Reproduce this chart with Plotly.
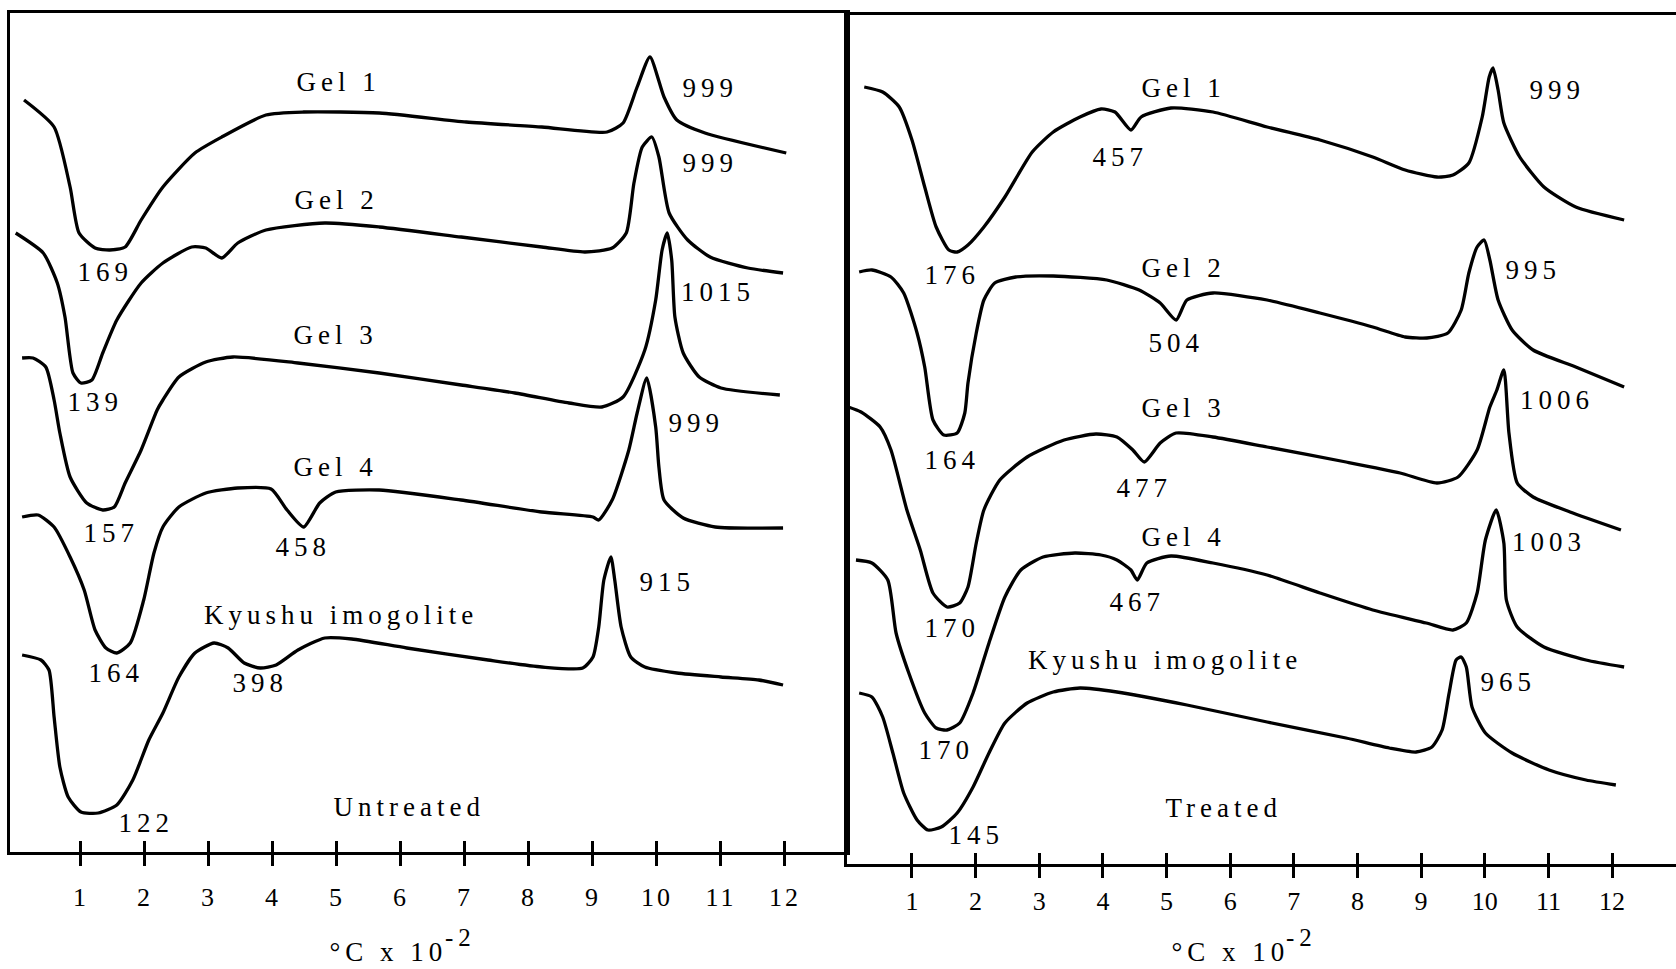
import plotly.graph_objects as go

# ---------------- data (temperature in 100 deg C units, DTA signal in arbitrary units) ----------------
tick_values = [1, 2, 3, 4, 5, 6, 7, 8, 9, 10, 11, 12]
tick_labels = ["1", "2", "3", "4", "5", "6", "7", "8", "9", "10", "11", "12"]

# Untreated
u_gel1_t = [0.11, 0.58, 0.83, 0.97, 1.22, 1.45, 1.69, 1.94, 2.28, 2.78, 3.20, 3.89, 4.48, 5.66, 7.02, 8.20, 9.22, 9.47, 9.69, 9.89, 10.11, 10.31, 10.75, 12.02]
u_gel1_s = [75.2, 72.5, 66.5, 61.9, 60.4, 60.2, 60.5, 63.2, 66.5, 69.9, 71.5, 73.7, 74.0, 73.9, 73.0, 72.5, 72.0, 72.9, 76.5, 79.5, 75.5, 73.2, 71.9, 69.9]

u_gel2_t = [-0.02, 0.41, 0.63, 0.75, 0.875, 1.0, 1.17, 1.34, 1.56, 1.94, 2.28, 2.73, 2.95, 3.20, 3.45, 3.89, 4.81, 5.66, 6.94, 8.20, 8.875, 9.30, 9.52, 9.64, 9.77, 9.92, 10.03, 10.19, 10.48, 10.83, 11.42, 11.97]
u_gel2_s = [61.9, 59.9, 56.9, 53.5, 47.9, 46.9, 47.2, 49.9, 53.2, 56.9, 58.9, 60.5, 60.4, 59.4, 60.9, 62.2, 62.9, 62.5, 61.5, 60.5, 60.0, 60.4, 61.9, 66.9, 70.5, 71.5, 69.5, 63.9, 61.2, 59.5, 58.4, 57.9]

u_gel3_t = [0.08, 0.25, 0.45, 0.58, 0.67, 0.83, 1.09, 1.34, 1.52, 1.69, 1.94, 2.19, 2.28, 2.53, 2.95, 3.375, 4.39, 5.66, 6.94, 7.78, 8.625, 9.14, 9.47, 9.81, 9.98, 10.08, 10.16, 10.23, 10.28, 10.41, 10.66, 11.0, 11.92]
u_gel3_s = [49.4, 49.4, 48.5, 45.2, 41.9, 37.5, 34.9, 34.2, 34.5, 36.9, 40.2, 44.2, 45.2, 47.5, 49.0, 49.5, 48.9, 47.9, 46.7, 45.9, 44.9, 44.5, 45.5, 50.2, 55.2, 60.2, 61.9, 59.2, 53.5, 49.9, 47.5, 46.4, 45.7]

u_gel4_t = [0.08, 0.33, 0.58, 0.83, 1.05, 1.22, 1.39, 1.56, 1.77, 1.98, 2.14, 2.28, 2.53, 2.95, 3.45, 3.97, 4.22, 4.48, 4.73, 4.98, 5.66, 6.94, 8.20, 9.0, 9.09, 9.30, 9.56, 9.69, 9.84, 9.98, 10.03, 10.11, 10.41, 10.91, 11.97]
u_gel4_s = [33.5, 33.7, 32.5, 29.5, 26.2, 22.2, 20.4, 19.9, 20.9, 25.2, 29.9, 32.5, 34.5, 35.9, 36.4, 36.3, 34.2, 32.5, 34.9, 36.0, 36.2, 35.2, 34.0, 33.5, 33.2, 35.2, 40.2, 43.9, 47.4, 42.5, 38.5, 35.2, 33.4, 32.5, 32.4]

u_kyu_t = [0.08, 0.375, 0.5, 0.58, 0.67, 0.80, 1.0, 1.27, 1.56, 1.81, 2.06, 2.28, 2.53, 2.78, 3.08, 3.30, 3.55, 3.80, 4.05, 4.39, 4.81, 5.23, 6.09, 7.36, 8.20, 8.84, 9.0, 9.09, 9.17, 9.28, 9.34, 9.44, 9.59, 9.81, 10.31, 11.0, 11.59, 11.97]
u_kyu_s = [19.7, 19.2, 18.2, 13.5, 8.5, 5.5, 4.0, 3.9, 4.7, 7.2, 11.2, 13.9, 17.5, 19.9, 20.9, 20.4, 18.9, 18.4, 18.7, 20.2, 21.4, 21.3, 20.4, 19.2, 18.5, 18.4, 19.5, 22.5, 27.2, 29.5, 27.2, 22.5, 19.5, 18.5, 17.9, 17.5, 17.2, 16.7]

# Treated
t_gel1_t = [0.25, 0.54, 0.80, 1.0, 1.20, 1.38, 1.58, 1.71, 1.88, 2.13, 2.46, 2.89, 3.22, 3.64, 3.97, 4.19, 4.44, 4.60, 5.07, 5.73, 6.58, 7.41, 8.24, 8.75, 9.25, 9.50, 9.75, 9.96, 10.07, 10.13, 10.21, 10.30, 10.55, 10.93, 11.43, 12.19]
t_gel1_s = [77.7, 77.2, 75.7, 72.4, 67.7, 63.7, 61.4, 61.2, 61.9, 63.7, 66.7, 71.2, 73.2, 74.7, 75.5, 75.2, 73.4, 74.7, 75.6, 75.2, 73.7, 72.4, 70.7, 69.4, 68.7, 68.9, 70.1, 74.7, 78.7, 79.6, 77.4, 74.1, 70.7, 67.7, 65.7, 64.4]

t_gel2_t = [0.17, 0.37, 0.67, 0.87, 1.08, 1.20, 1.33, 1.50, 1.71, 1.83, 1.88, 2.01, 2.13, 2.30, 2.63, 3.22, 4.06, 4.57, 4.90, 5.15, 5.32, 5.73, 6.58, 7.41, 8.24, 8.75, 9.09, 9.42, 9.63, 9.75, 9.88, 9.99, 10.08, 10.21, 10.43, 10.76, 11.43, 12.19]
t_gel2_s = [59.2, 59.4, 58.7, 57.1, 53.1, 49.7, 44.4, 42.9, 43.1, 45.1, 48.1, 53.1, 56.4, 58.1, 58.7, 58.8, 58.4, 57.4, 56.1, 54.4, 56.4, 57.1, 56.4, 55.1, 53.7, 52.7, 52.6, 53.1, 55.4, 59.1, 61.7, 62.4, 60.4, 56.4, 53.4, 51.4, 49.7, 47.7]

t_gel3_t = [0.0, 0.20, 0.50, 0.67, 0.92, 1.13, 1.33, 1.55, 1.75, 1.88, 2.01, 2.13, 2.38, 2.81, 3.39, 3.89, 4.22, 4.47, 4.65, 4.90, 5.15, 5.73, 6.58, 7.82, 8.67, 9.25, 9.58, 9.88, 10.08, 10.19, 10.30, 10.38, 10.51, 10.76, 11.34, 12.14]
t_gel3_s = [45.7, 45.2, 43.7, 41.4, 35.4, 31.4, 27.1, 25.7, 26.1, 27.7, 32.1, 35.4, 38.4, 40.7, 42.4, 43.0, 42.7, 41.4, 40.2, 42.1, 43.1, 42.7, 41.7, 40.2, 39.1, 38.1, 38.7, 41.4, 45.7, 47.4, 49.4, 43.1, 38.1, 36.7, 35.2, 33.4]

t_gel4_t = [0.12, 0.37, 0.62, 0.75, 0.95, 1.20, 1.38, 1.55, 1.75, 1.96, 2.21, 2.46, 2.71, 3.06, 3.56, 3.97, 4.22, 4.44, 4.54, 4.69, 5.07, 5.73, 6.58, 7.41, 8.24, 9.08, 9.50, 9.71, 9.88, 10.01, 10.18, 10.30, 10.34, 10.51, 10.93, 11.59, 12.19]
t_gel4_s = [30.4, 30.1, 28.4, 23.1, 19.1, 15.1, 13.6, 13.4, 14.1, 17.1, 22.1, 26.7, 29.4, 30.7, 31.1, 30.9, 30.4, 29.4, 28.4, 30.1, 30.8, 30.1, 28.9, 27.1, 25.4, 24.1, 23.4, 24.1, 27.1, 32.4, 35.4, 32.1, 26.4, 23.7, 21.7, 20.4, 19.7]

t_kyu_t = [0.17, 0.37, 0.54, 0.70, 0.87, 1.08, 1.25, 1.46, 1.71, 1.96, 2.21, 2.46, 2.81, 3.22, 3.64, 4.22, 5.32, 6.58, 7.82, 8.50, 8.92, 9.17, 9.33, 9.44, 9.55, 9.63, 9.71, 9.80, 10.01, 10.43, 11.01, 11.59, 12.06]
t_kyu_s = [17.1, 16.7, 14.7, 11.1, 7.1, 4.4, 3.4, 3.7, 5.1, 7.7, 11.1, 14.1, 16.1, 17.2, 17.6, 17.2, 15.9, 14.2, 12.6, 11.6, 11.2, 11.7, 13.4, 17.1, 20.4, 20.7, 19.7, 15.7, 13.1, 11.1, 9.4, 8.4, 7.9]

# Curve and peak labels: (text, temperature, signal)
untreated_labels = [
    ("Gel 1", 5.02, 77.0), ("999", 10.84, 76.4), ("169", 1.39, 58.0),
    ("Gel 2", 5.00, 65.2), ("999", 10.83, 68.9), ("139", 1.22, 45.0),
    ("1015", 10.95, 56.0), ("Gel 3", 4.98, 51.7), ("999", 10.61, 42.9),
    ("157", 1.47, 31.9), ("Gel 4", 4.98, 38.5), ("458", 4.48, 30.5),
    ("915", 10.16, 27.0), ("Kyushu imogolite", 5.06, 23.7), ("164", 1.56, 17.9),
    ("398", 3.80, 16.9), ("122", 2.02, 2.9), ("Untreated", 6.13, 4.5),
]
treated_labels = [
    ("Gel 1", 5.27, 77.6), ("999", 11.14, 77.4), ("457", 4.27, 70.7),
    ("176", 1.63, 58.9), ("Gel 2", 5.27, 59.6), ("995", 10.76, 59.4),
    ("504", 5.15, 52.1), ("Gel 3", 5.27, 45.6), ("1006", 11.14, 46.4),
    ("164", 1.63, 40.4), ("477", 4.65, 37.6), ("Gel 4", 5.27, 32.7),
    ("1003", 11.01, 32.2), ("170", 1.63, 23.6), ("467", 4.54, 26.2),
    ("Kyushu imogolite", 4.98, 20.4), ("965", 10.38, 18.2), ("170", 1.55, 11.4),
    ("Treated", 5.90, 5.6), ("145", 2.01, 2.9),
]
axis_title_main = "°C x 10"
axis_title_exp = "-2"

# ---------------- figure ----------------
FONT = "Liberation Serif, Times New Roman, serif"
W, H = 1676, 969
ML, MR, MT, MB = 10, 0, 13, 105

fig = go.Figure()

untreated = [(u_gel1_t, u_gel1_s), (u_gel2_t, u_gel2_s), (u_gel3_t, u_gel3_s), (u_gel4_t, u_gel4_s), (u_kyu_t, u_kyu_s)]
treated = [(t_gel1_t, t_gel1_s), (t_gel2_t, t_gel2_s), (t_gel3_t, t_gel3_s), (t_gel4_t, t_gel4_s), (t_kyu_t, t_kyu_s)]

for xs, ys in untreated:
    fig.add_trace(go.Scatter(x=xs, y=ys, mode="lines", xaxis="x", yaxis="y",
                             line=dict(color="black", width=3.3, shape="spline", smoothing=0.6),
                             showlegend=False, hoverinfo="skip"))
for xs, ys in treated:
    fig.add_trace(go.Scatter(x=xs, y=ys, mode="lines", xaxis="x2", yaxis="y2",
                             line=dict(color="black", width=3.3, shape="spline", smoothing=0.6),
                             showlegend=False, hoverinfo="skip"))
# invisible traces to activate the overlay tick axes
fig.add_trace(go.Scatter(x=[None], y=[None], xaxis="x3", yaxis="y", showlegend=False, hoverinfo="skip"))
fig.add_trace(go.Scatter(x=[None], y=[None], xaxis="x4", yaxis="y2", showlegend=False, hoverinfo="skip"))

split = (847 - ML) / (W - ML - MR)
plot_h = H - MT - MB
left_bottom = (H - MB - 852) / plot_h
right_top = (H - MB - 15) / plot_h

common_x = dict(tickmode="array", tickvals=tick_values, ticktext=tick_labels,
                ticks="outside", ticklen=11, tickwidth=2.5, tickcolor="black",
                showline=True, linecolor="black", linewidth=3,
                showgrid=False, zeroline=False,
                tickfont=dict(family=FONT, size=26, color="black"))
common_y = dict(showticklabels=False, ticks="", showgrid=False, zeroline=False,
                showline=True, linecolor="black", linewidth=3)
overlay_x = dict(tickmode="array", tickvals=tick_values, ticks="inside", ticklen=11, tickwidth=2.5,
                 tickcolor="black", showticklabels=False, showline=False, showgrid=False, zeroline=False)

fig.update_layout(
    width=W, height=H,
    margin=dict(l=ML, r=MR, t=MT, b=MB),
    paper_bgcolor="white", plot_bgcolor="white",
    xaxis=dict(domain=[0, split], range=[-0.109, 12.969], anchor="y", mirror=True,
               ticklabelstandoff=9, **common_x),
    yaxis=dict(domain=[left_bottom, 1.0], range=[0, 83.9], anchor="x", mirror=True, **common_y),
    xaxis2=dict(domain=[split, 1.0], range=[-0.021, 13.005], anchor="y2", mirror=True,
                ticklabelstandoff=1, **common_x),
    yaxis2=dict(domain=[0, right_top], range=[0, 84.9], anchor="x2", mirror=False, **common_y),
    xaxis3=dict(overlaying="x", anchor="y", range=[-0.109, 12.969], **overlay_x),
    xaxis4=dict(overlaying="x2", anchor="y2", range=[-0.021, 13.005], **overlay_x),
)

annotations = []
for txt, xv, yv in untreated_labels:
    annotations.append(dict(text=txt, x=xv, y=yv, xref="x", yref="y", showarrow=False,
                            font=dict(family=FONT, size=27, color="black")))
for txt, xv, yv in treated_labels:
    annotations.append(dict(text=txt, x=xv, y=yv, xref="x2", yref="y2", showarrow=False,
                            font=dict(family=FONT, size=27, color="black")))
# axis titles: main part + raised exponent
for xr, xm, xe in (("x", 5.8, 6.93), ("x2", 6.0, 7.12)):
    annotations.append(dict(text=axis_title_main, x=xm, y=-0.103, xref=xr, yref="paper", showarrow=False,
                            yanchor="middle", font=dict(family=FONT, size=27, color="black")))
    annotations.append(dict(text=axis_title_exp, x=xe, y=-0.086, xref=xr, yref="paper", showarrow=False,
                            yanchor="middle", font=dict(family=FONT, size=25, color="black")))
fig.update_layout(annotations=annotations)

post = ("document.body.style.margin='0';"
        "var s=document.createElement('style');"
        "s.innerHTML='body{margin:0}.annotation-text{letter-spacing:5px}.xtick text{letter-spacing:3px}';"
        "document.head.appendChild(s);")
fig.write_html("out.html", post_script=post, config={"displayModeBar": False})
